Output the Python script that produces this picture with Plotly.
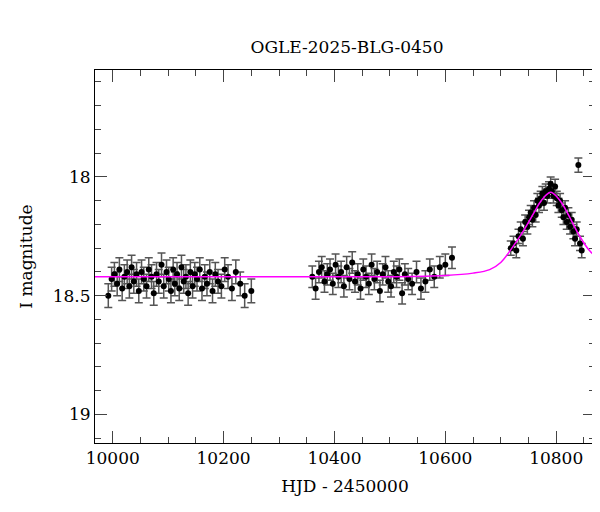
import plotly.graph_objects as go

hjd = [9992,9998,10003,10008,10012,10017,10021,10026,10030,10034,10038,10043,10047,10052,10056,10061,10065,10070,10074,10079,10083,10088,10092,10097,10101,10105,10109,10112,10116,10120,10124,10128,10132,10136,10140,10144,10148,10152,10157,10161,10166,10170,10175,10180,10185,10190,10196,10202,10208,10215,10222,10230,10238,10250,
       10360,10366,10372,10377,10382,10387,10392,10397,10402,10407,10412,10417,10422,10427,10432,10437,10442,10447,10452,10457,10462,10467,10472,10477,10482,10487,10492,10497,10502,10507,10512,10517,10522,10527,10533,10540,10548,10556,10564,10572,10580,10590,10600,10612,
       10718,10723,10728,10732,10736,10740,10744,10748,10751,10754,10757,10760,10763,10766,10769,10772,10775,10778,10781,10784,10787,10790,10792,10795,10798,10801,10804,10807,10810,10813,10816,10819,10822,10825,10828,10831,10834,10837,10840,10843,10846]
mag = [18.50,18.43,18.41,18.45,18.39,18.47,18.42,18.40,18.46,18.38,18.44,18.41,18.48,18.40,18.43,18.46,18.39,18.42,18.49,18.41,18.44,18.37,18.46,18.40,18.43,18.48,18.39,18.45,18.41,18.47,18.38,18.44,18.42,18.49,18.40,18.46,18.41,18.43,18.39,18.47,18.42,18.45,18.40,18.48,18.41,18.44,18.46,18.39,18.42,18.47,18.40,18.45,18.50,18.48,
       18.42,18.47,18.40,18.38,18.44,18.41,18.39,18.45,18.37,18.42,18.40,18.46,18.38,18.43,18.36,18.44,18.41,18.47,18.39,18.42,18.45,18.37,18.43,18.40,18.48,18.41,18.38,18.44,18.46,18.40,18.42,18.39,18.49,18.41,18.43,18.45,18.40,18.47,18.44,18.39,18.42,18.38,18.37,18.34,
       18.30,18.28,18.31,18.25,18.22,18.26,18.19,18.21,18.17,18.15,18.18,18.13,18.16,18.10,18.12,18.09,18.07,18.11,18.06,18.08,18.05,18.03,18.06,18.08,18.04,18.09,18.12,18.10,18.14,18.17,18.13,18.19,18.16,18.21,18.18,18.23,18.26,18.22,17.95,18.28,18.31]
err = [0.05]*54 + [0.045]*44 + [0.03]*41

model_hjd = [9960,10100,10300,10500,10600,10650,10680,10700,10720,10740,10760,10770,10780,10785,10790,10795,10800,10810,10820,10840,10860,10880,10910]
model_mag = [18.42,18.42,18.42,18.42,18.415,18.405,18.39,18.36,18.30,18.23,18.15,18.11,18.08,18.07,18.065,18.07,18.08,18.11,18.15,18.24,18.31,18.35,18.38]

font = dict(family="DejaVu Serif, serif", size=17, color="black")
fig = go.Figure()
fig.add_trace(go.Scatter(x=hjd, y=mag, mode="markers",
    marker=dict(color="black", size=6),
    error_y=dict(type="data", array=err, color="#555", thickness=1.5, width=4)))
fig.add_trace(go.Scatter(x=model_hjd, y=model_mag, mode="lines", line=dict(color="magenta", width=1.5, shape="spline")))

axis_common = dict(showline=True, mirror="ticks", linecolor="black", linewidth=1, ticks="inside",
                   ticklen=12, showgrid=False, zeroline=False, tickfont=font, automargin=False)
fig.update_xaxes(range=[9968, 10870], dtick=200, tick0=0, tickformat="d", title=dict(text="HJD - 2450000", font=font, standoff=12),
                 minor=dict(dtick=50, ticks="inside", ticklen=6), **axis_common)
fig.update_yaxes(range=[19.12, 17.55], dtick=0.5, tick0=0, title=dict(text="I magnitude", font=font, standoff=15),
                 minor=dict(dtick=0.1, ticks="inside", ticklen=6), **axis_common)
fig.update_layout(width=600, height=512, showlegend=False, plot_bgcolor="white", paper_bgcolor="white",
                  margin=dict(l=87, r=13, t=62, b=77),
                  title=dict(text="OGLE-2025-BLG-0450", x=0.565, xanchor="center", y=0.935,
                             font=dict(family="DejaVu Serif, serif", size=17, color="black")))
fig.write_html("out.html")
